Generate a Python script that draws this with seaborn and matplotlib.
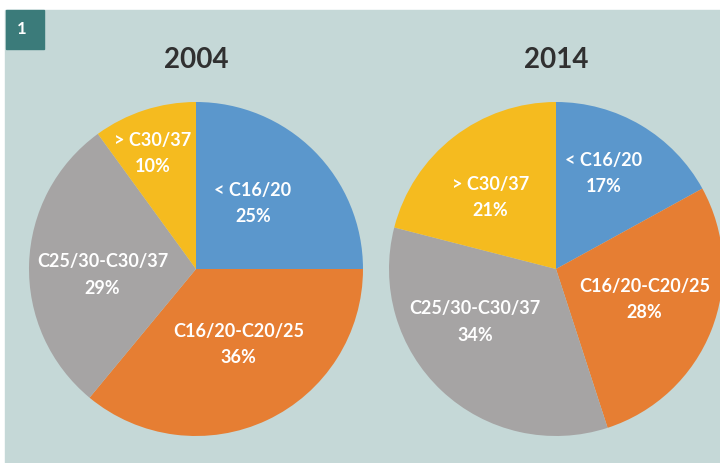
import numpy as np
import matplotlib
matplotlib.use("Agg")
import matplotlib.pyplot as plt
import seaborn as sns
from matplotlib.patches import Rectangle

# data
categories = ["< C16/20", "C16/20-C20/25", "C25/30-C30/37", "> C30/37"]
share_2004 = [25, 36, 29, 10]
share_2014 = [17, 28, 34, 21]
years = ["2004", "2014"]

colors = sns.color_palette(["#5b97cc", "#e67e33", "#a6a4a4", "#f5bb1f"])

sns.set_theme(style="white")
plt.rcParams['font.family'] = ['Lato', 'DejaVu Sans']

W, H = 720, 463
fig = plt.figure(figsize=(W / 100, H / 100), dpi=100)
ax = fig.add_axes([0, 0, 1, 1])

# panel background and number tag
ax.add_patch(Rectangle((5, 0), W, H - 10, color="#c5d8d7", zorder=0))
ax.add_patch(Rectangle((6, H - 49), 38, 39, color="#3b7b7a", zorder=1))
ax.text(22, H - 29, "1", color="white", fontsize=12, fontweight="bold",
        ha="center", va="center", zorder=2)

centers = [(196, H - 269), (556, H - 269)]
radius = 167
# label placement tweaks (radius fraction, angle nudge in degrees)
label_r = [[0.52, 0.52, 0.56, 0.74], [0.64, 0.56, 0.58, 0.58]]
label_da = [[4, 4, 5.5, 2.6], [4.3, 2.6, -13.6, 4.7]]

for i, values in enumerate([share_2004, share_2014]):
    cx, cy = centers[i]
    wedges, _ = ax.pie(values, colors=colors, startangle=90, counterclock=False,
                       center=(cx, cy), radius=radius, frame=True,
                       wedgeprops=dict(linewidth=0))
    for j, w in enumerate(wedges):
        w.set_zorder(3)
        mid = (w.theta1 + w.theta2) / 2
        ang = np.deg2rad(mid + label_da[i][j])
        r = label_r[i][j] * radius
        ax.text(cx + r * np.cos(ang), cy + r * np.sin(ang),
                f"{categories[j]}\n{values[j]}%", color="white",
                fontsize=13, fontweight="bold", ha="center", va="center",
                linespacing=1.65, zorder=4)
    ax.text(cx, H - 60, years[i], fontsize=20, fontweight="bold", color="#303030",
            ha="center", va="center", zorder=4)

ax.set_xlim(0, W)
ax.set_ylim(0, H)
ax.set_aspect("equal")
ax.axis("off")

fig.savefig("out.png", dpi=100, facecolor="white")
